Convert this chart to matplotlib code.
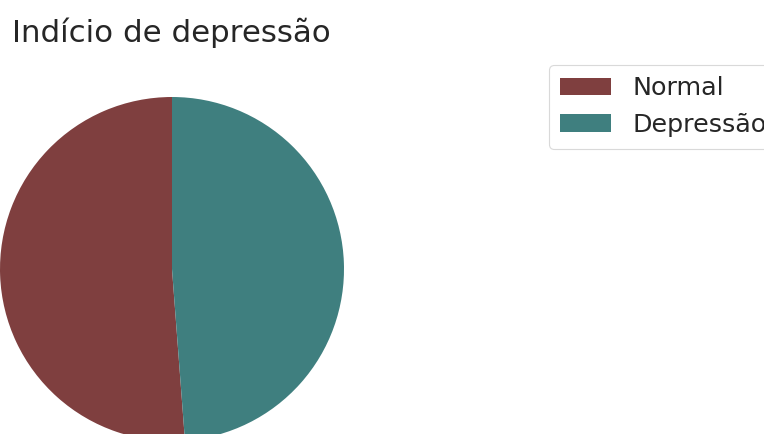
import matplotlib
matplotlib.use("Agg")
import matplotlib.pyplot as plt

labels = ["Normal", "Depressão"]
values = [51.2, 48.8]
colors = ["#7f3f3f", "#3f7f7f"]
title = "Indício de depressão"

W, H = 764, 434
fig = plt.figure(figsize=(W / 100, H / 100), dpi=100)
fig.patch.set_facecolor("white")

cx, cy, r = 172, 269, 172  # pixel coords from top-left
ax = fig.add_axes([(cx - r) / W, (H - cy - r) / H, 2 * r / W, 2 * r / H])
wedges, _ = ax.pie(values, colors=colors, startangle=90, counterclock=True)
ax.set_xlim(-1, 1)
ax.set_ylim(-1, 1)
ax.set_aspect("equal")
ax.axis("off")

fig.text(12 / W, 1 - 42 / H, title, fontsize=22.2, color="#262626",
         ha="left", va="baseline")

leg = fig.legend(wedges, labels, loc="upper left",
                 bbox_to_anchor=(549 / W, 1 - 65 / H),
                 fontsize=18.3, frameon=True, labelspacing=0.5,
                 handlelength=2.0, handleheight=0.7, borderpad=0.45,
                 handletextpad=0.85, borderaxespad=0)
leg.get_frame().set_edgecolor("#d0d0d0")
leg.get_frame().set_linewidth(0.8)
for t in leg.get_texts():
    t.set_color("#262626")

fig.savefig("out.png", dpi=100)
